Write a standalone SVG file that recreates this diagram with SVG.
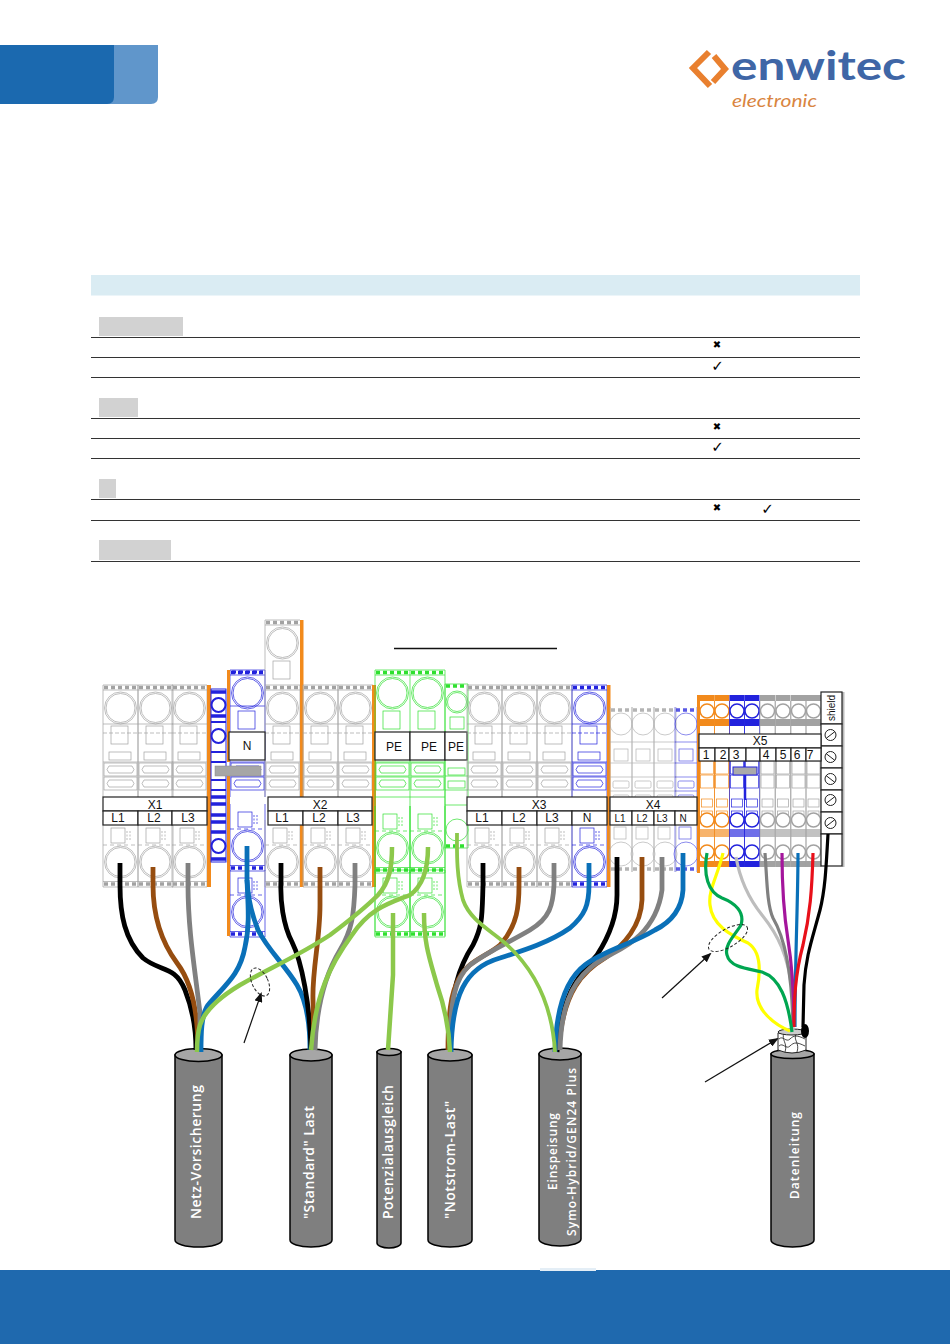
<svg xmlns="http://www.w3.org/2000/svg" width="950" height="1344" viewBox="0 0 950 1344">
<style>
.g{color:#a2a2a2}.b{color:#2222dd}.e{color:#2fe02f}.o{color:#f28a1c}
.ln{fill:none;stroke:currentColor;stroke-width:.7}
.st{fill:none;stroke:currentColor;stroke-width:3.500;stroke-dasharray:4 3}
.lb{fill:#fff;stroke:#222;stroke-width:1.2}
.t{font-family:"Liberation Sans",Arial,sans-serif;font-size:12px;text-anchor:middle;fill:#111}
.t10{font-size:10px}
.bar{fill:#f28a1c}
.rule{stroke:#333;stroke-width:1}
.gb{fill:#d2d2d2}
.mk{font-family:"DejaVu Sans",sans-serif;text-anchor:middle;fill:#000}
.cb{fill:#7f7f7f;stroke:#000;stroke-width:1.5}
.ct{fill:#a6a6a6;stroke:#000;stroke-width:1.5}
.ctx{font-family:"Open Sans","Noto Sans",sans-serif;font-weight:600;fill:#fff}
.w{fill:none;stroke-linecap:butt;stroke-linejoin:round}
.wk{stroke:#000}.wn{stroke:#964d10}.wg{stroke:#808080}.wu{stroke:#0a70b8}.wp{stroke:#8cc84b}
.dash{fill:none;stroke:#222;stroke-width:1;stroke-dasharray:3 2}
.ar{fill:none;stroke:#111;stroke-width:1.2;marker-end:url(#ah)}
.bk{fill:#fff;stroke:currentColor}
.sc{fill:#fff;stroke:#222;stroke-width:1}
</style>
<defs>
<marker id="ah" markerWidth="10" markerHeight="8" refX="8" refY="4" orient="auto" markerUnits="userSpaceOnUse"><path d="M0 0L10 4L0 8Z" fill="#111"/></marker>
<g id="cap">
<path class="st" d="M1 2.500H34"/>
<path class="ln" d="M0 0H35M0 5H35"/>
<circle class="ln" cx="17.500" cy="23" r="16"/><circle class="ln" cx="17.500" cy="23" r="14.500"/>
<rect class="ln" x="8" y="41" width="17" height="18"/>
</g>
<g id="fuse">
<path class="ln" d="M0 77H35"/>
<rect class="ln" x="1" y="78" width="33" height="13"/>
<path class="ln" d="M6 81H29L31 84.500L29 88H6L4 84.500Z"/>
<rect class="ln" x="1" y="92" width="33" height="13"/>
<path class="ln" d="M6 95H29L31 98.500L29 102H6L4 98.500Z"/>
</g>
<g id="top">
<use href="#cap"/>
<use href="#fuse"/>
<path class="ln" d="M0 0V112M35 0V112M0 39H35"/>
<path class="ln" d="M0 48H35" stroke-dasharray="4 2" stroke-width="1"/>
<rect class="ln" x="6" y="67" width="22" height="8"/>
</g>
<g id="bot">
<rect class="ln" x="8" y="143" width="14" height="15"/>
<path class="ln" d="M24 146V156M27 146V156" stroke-dasharray="2 1.500" stroke-width="1.500"/>
<path class="ln" d="M0 160H35" stroke-dasharray="4 3"/>
<path class="ln" d="M0 135V202M35 135V202"/>
<circle class="ln" cx="17.500" cy="177" r="16"/><circle class="ln" cx="17.500" cy="177" r="14.500"/>
<path class="st" d="M1 199H34"/>
<path class="ln" d="M0 196.500H35M0 202H35"/>
</g>
<g id="mod"><use href="#top"/><use href="#bot"/></g>
<g id="nar">
<path class="st" d="M1 3H21" stroke-width="3"/>
<path class="ln" d="M0 0V165M22 0V165M0 35H22M0 56H22M0 70H22M0 84H22"/>
<circle class="ln" cx="11" cy="17" r="11"/>
<rect class="ln" x="4" y="42" width="14" height="12"/>
<rect class="ln" x="3" y="74" width="16" height="7" rx="1.500"/>
<rect class="ln" x="3" y="88" width="16" height="7" rx="1.500"/>
<rect class="ln" x="4" y="120" width="12" height="12"/>
<circle class="ln" cx="11" cy="147" r="12"/>
<path class="st" d="M1 162H21" stroke-width="3"/>
</g>
<g id="k">
<rect x="0" y="0" width="15" height="6" fill="currentColor"/>
<rect x="0" y="24" width="15" height="7" fill="currentColor"/>
<circle class="bk" stroke-width="1.500" cx="7.500" cy="16" r="7"/>
<path class="ln" d="M0 6V172M15 6V172"/>
<rect class="ln" x="1" y="66" width="13" height="13"/>
<rect class="ln" x="1" y="80" width="13" height="13"/>
<rect class="ln" x="2" y="104" width="11" height="8"/>
<rect class="ln" x="2" y="116" width="11" height="7"/>
<circle class="bk" stroke-width="1.500" cx="7.500" cy="125" r="7"/>
<rect x="0" y="134" width="15" height="8" fill="currentColor" opacity=".65"/>
<circle class="bk" stroke-width="1.500" cx="7.500" cy="157" r="7"/>
<rect x="0" y="166" width="15" height="6" fill="currentColor"/>
</g>
</defs>
<rect width="950" height="1344" fill="#fff"/>

<g id="header">
<path d="M100 45H158V97Q158 104 151 104H100Z" fill="#6096cb"/>
<path d="M0 45H114V97Q114 104 107 104H0Z" fill="#1b69af"/>
</g>
<g id="logo">
<path d="M709 52L693 68L710 86" fill="none" stroke="#e9802f" stroke-width="6"/>
<path d="M714 56L725 69L713 82" fill="none" stroke="#e9802f" stroke-width="6"/>
<text x="731" y="80" font-family="Lato,sans-serif" font-weight="700" font-size="40" fill="#3f66a6" textLength="175" lengthAdjust="spacingAndGlyphs">enwitec</text>
<text x="732" y="107" font-family="Lato,sans-serif" font-style="italic" font-size="18" fill="#d9853f" textLength="85" lengthAdjust="spacingAndGlyphs">electronic</text>
</g>
<g id="table">
<rect x="91" y="275" width="769" height="20.500" fill="#daecf3"/>
<rect class="gb" x="99" y="317" width="84" height="19"/>
<rect class="gb" x="99" y="398" width="39" height="19"/>
<rect class="gb" x="99" y="479" width="17" height="19"/>
<rect class="gb" x="99" y="540" width="72" height="20"/>
<path class="rule" d="M91 337.500H860M91 357.500H860M91 377.500H860M91 418.500H860M91 438.500H860M91 458.500H860M91 499.500H860M91 520.500H860M91 561.500H860"/>
<text class="mk" x="717" y="348" font-size="10">✖</text>
<text class="mk" x="717.500" y="371" font-size="15">✓</text>
<text class="mk" x="717" y="430" font-size="10">✖</text>
<text class="mk" x="717.500" y="452" font-size="15">✓</text>
<text class="mk" x="717" y="511" font-size="10">✖</text>
<text class="mk" x="767.500" y="514" font-size="15">✓</text>
</g>
<path id="title-rule" d="M394 648.500H557" stroke="#111" stroke-width="1.600"/>

<g id="X1-block" class="g">
<use href="#mod" x="103" y="685"/><use href="#mod" x="138" y="685"/><use href="#mod" x="172" y="685"/>
<rect class="bar" x="207" y="685" width="4" height="202"/>
</g>
<g id="bridge-column" class="b">
<rect x="211" y="689" width="15" height="173" fill="#fff" stroke="currentColor" stroke-width="1"/>
<path d="M211 692H226M211 716H226M211 797H226M211 804H226M211 815H226M211 822H226M211 832H226M211 859H226" stroke="currentColor" stroke-width="3.500"/>
<path d="M211 722H226M211 752H226M211 762H226M211 780H226M211 790H226" stroke="currentColor" stroke-width="2"/>
<circle cx="218.500" cy="705" r="7" fill="#fff" stroke="currentColor" stroke-width="2"/>
<circle cx="218.500" cy="736" r="7" fill="#fff" stroke="currentColor" stroke-width="2"/>
<circle cx="218.500" cy="846" r="7" fill="#fff" stroke="currentColor" stroke-width="2"/>
</g>
<g id="N-block" class="b">
<use href="#cap" x="230" y="670"/><use href="#fuse" x="230" y="685"/><use href="#bot" x="230" y="669"/><use href="#bot" x="230" y="735"/>
<path class="ln" d="M230 670V797M265 670V797M230 706H265"/>
<path d="M232 672H263" stroke="currentColor" stroke-width="3" stroke-dasharray="4 3"/>
<rect class="bar" x="227" y="670" width="3" height="92"/>
<rect class="bar" x="227" y="776" width="3" height="160"/>
</g>
<g id="tall-block" class="g">
<use href="#cap" x="265" y="620"/>
<path class="ln" d="M265 620V685"/>
<use href="#mod" x="265" y="685"/>
<rect class="bar" x="300" y="620" width="3.500" height="267"/>
</g>
<rect id="bridge" x="215" y="766" width="46" height="10" fill="#a6a6a6" stroke="#888" stroke-width=".5"/>
<g id="N-label">
<rect class="lb" x="229" y="732" width="36" height="28"/>
<text class="t" x="247" y="750">N</text>
</g>
<g id="X2-block" class="g">
<use href="#mod" x="303" y="685"/><use href="#mod" x="338" y="685"/>
<rect class="bar" x="372" y="685" width="4" height="202"/>
</g>
<g id="PE-block" class="e">
<use href="#cap" x="375" y="670"/><use href="#cap" x="410" y="670"/>
<use href="#fuse" x="375" y="685"/><use href="#fuse" x="410" y="685"/>
<use href="#bot" x="375" y="671"/><use href="#bot" x="410" y="671"/>
<use href="#bot" x="375" y="735"/><use href="#bot" x="410" y="735"/>
<path class="ln" d="M375 670V936M410 670V936M445 670V936M375 797H445M375 870H445"/>
<path class="ln" d="M445 684V848H468V684ZM445 776H468M445 790H468M445 805H468"/>
<path class="st" d="M446 686H467" stroke-width="3"/>
<circle class="ln" cx="457" cy="702" r="11"/><circle class="ln" cx="457" cy="702" r="9.500"/>
<rect class="ln" x="450" y="717" width="14" height="12"/>
<rect class="ln" x="448" y="768" width="17" height="7"/>
<rect class="ln" x="448" y="781" width="17" height="7"/>
<circle class="ln" cx="457" cy="830" r="11"/>
<path class="st" d="M446 846H467" stroke-width="3"/>
</g>
<g id="PE-labels">
<rect class="lb" x="375" y="732" width="35" height="28"/><rect class="lb" x="410" y="732" width="35" height="28"/><rect class="lb" x="445" y="732" width="22" height="28"/>
<text class="t" x="394" y="751">PE</text><text class="t" x="429" y="751">PE</text><text class="t" x="456" y="751">PE</text>
</g>
<g id="X3-block">
<g class="g"><use href="#mod" x="467" y="685"/><use href="#mod" x="502" y="685"/><use href="#mod" x="537" y="685"/></g>
<g class="b"><use href="#mod" x="572" y="685"/></g>
<rect class="bar" x="607" y="685" width="3.500" height="202"/>
</g>
<g id="X4-block">
<g class="g" opacity=".8"><use href="#nar" x="610" y="707"/><use href="#nar" x="632" y="707"/><use href="#nar" x="654" y="707"/></g>
<g class="b" opacity=".75"><use href="#nar" x="675" y="707"/></g>
<rect class="bar" x="697" y="695" width="3" height="178"/>
</g>
<g id="X5-block">
<g class="o"><use href="#k" x="699.500" y="695"/><use href="#k" x="714.500" y="695"/></g>
<g class="b"><use href="#k" x="729.500" y="695"/><use href="#k" x="744.500" y="695"/></g>
<g class="g"><use href="#k" x="760" y="695"/><use href="#k" x="775.500" y="695"/><use href="#k" x="791" y="695"/><use href="#k" x="806" y="695"/></g>
<rect x="733" y="767" width="24" height="8" fill="#aaa" stroke="#2222dd"/>
<path d="M745 775V800" stroke="#2222dd" stroke-width="2.500"/>
</g>
<g id="shield-block">
<rect x="842" y="692" width="2.500" height="175" fill="#bbb"/>
<rect class="lb" x="821" y="692" width="21" height="32"/>
<rect class="lb" x="821" y="724" width="21" height="22"/><rect class="lb" x="821" y="746" width="21" height="22"/><rect class="lb" x="821" y="768" width="21" height="22"/><rect class="lb" x="821" y="790" width="21" height="22"/><rect class="lb" x="821" y="812" width="21" height="22"/><rect class="lb" x="821" y="834" width="21" height="32"/>
<text x="835" y="708" font-family="'Liberation Sans',sans-serif" font-size="10" text-anchor="middle" fill="#111" transform="rotate(-90 835 708)">shield</text>
<g id="screws">
<circle class="sc" cx="830.500" cy="735" r="5.500"/><path class="sc" d="M826 738.500L835 731.500"/>
<circle class="sc" cx="830.500" cy="757" r="5.500"/><path class="sc" d="M826 753.500L835 760.500"/>
<circle class="sc" cx="830.500" cy="779" r="5.500"/><path class="sc" d="M826 775.500L835 782.500"/>
<circle class="sc" cx="830.500" cy="800" r="5.500"/><path class="sc" d="M826 803.500L835 796.500"/>
<circle class="sc" cx="830.500" cy="823" r="5.500"/><path class="sc" d="M826 826.500L835 819.500"/>
</g>
</g>
<g id="X1-label">
<rect class="lb" x="103" y="797" width="104" height="14"/>
<rect class="lb" x="103" y="811" width="35" height="14"/><rect class="lb" x="138" y="811" width="34" height="14"/><rect class="lb" x="172" y="811" width="35" height="14"/>
<text class="t" x="155" y="809">X1</text><text class="t" x="118" y="822">L1</text><text class="t" x="154" y="822">L2</text><text class="t" x="188" y="822">L3</text>
</g>
<g id="X2-label">
<rect class="lb" x="268" y="797" width="104" height="14"/>
<rect class="lb" x="268" y="811" width="35" height="14"/><rect class="lb" x="303" y="811" width="35" height="14"/><rect class="lb" x="338" y="811" width="34" height="14"/>
<text class="t" x="320" y="809">X2</text><text class="t" x="282" y="822">L1</text><text class="t" x="319" y="822">L2</text><text class="t" x="353" y="822">L3</text>
</g>
<g id="X3-label">
<rect class="lb" x="467" y="797" width="140" height="14"/>
<rect class="lb" x="467" y="811" width="35" height="14"/><rect class="lb" x="502" y="811" width="35" height="14"/><rect class="lb" x="537" y="811" width="35" height="14"/><rect class="lb" x="572" y="811" width="35" height="14"/>
<text class="t" x="539" y="809">X3</text><text class="t" x="482" y="822">L1</text><text class="t" x="519" y="822">L2</text><text class="t" x="552" y="822">L3</text><text class="t" x="587" y="822">N</text>
</g>
<g id="X4-label">
<rect class="lb" x="610" y="797" width="87" height="14"/>
<rect class="lb" x="610" y="811" width="22" height="14"/><rect class="lb" x="632" y="811" width="22" height="14"/><rect class="lb" x="654" y="811" width="21" height="14"/><rect class="lb" x="675" y="811" width="22" height="14"/>
<text class="t" x="653" y="809">X4</text><text class="t t10" x="620" y="822">L1</text><text class="t t10" x="642" y="822">L2</text><text class="t t10" x="662" y="822">L3</text><text class="t t10" x="683" y="822">N</text>
</g>
<g id="X5-label">
<rect class="lb" x="699" y="734" width="122" height="14"/>
<rect class="lb" x="699" y="748" width="16" height="13"/><rect class="lb" x="715" y="748" width="14" height="13"/><rect class="lb" x="729" y="748" width="17" height="13"/><rect class="lb" x="746" y="748" width="14" height="13"/><rect class="lb" x="760" y="748" width="16" height="13"/><rect class="lb" x="776" y="748" width="15" height="13"/><rect class="lb" x="791" y="748" width="15" height="13"/><rect class="lb" x="806" y="748" width="15" height="13"/>
<text class="t" x="760" y="745">X5</text><text class="t" x="706" y="759">1</text><text class="t" x="723" y="759">2</text><text class="t" x="736" y="759">3</text><text class="t" x="766" y="759">4</text><text class="t" x="783" y="759">5</text><text class="t" x="797" y="759">6</text><text class="t" x="810" y="759">7</text>
</g>

<g id="cable-netz">
<path class="cb" d="M175 1055V1240A23.500 7 0 0 0 222 1240V1055Z"/><ellipse class="ct" cx="198.500" cy="1055" rx="23.500" ry="6.500"/>
<text class="ctx" font-size="14" textLength="134" transform="translate(201 1219) rotate(-90)">Netz-Vorsicherung</text>
</g>
<g id="cable-standard">
<path class="cb" d="M290 1055V1240A21 7 0 0 0 332 1240V1055Z"/><ellipse class="ct" cx="311" cy="1055" rx="21" ry="6"/>
<text class="ctx" font-size="14" textLength="113" transform="translate(314 1219) rotate(-90)">"Standard" Last</text>
</g>
<g id="cable-potenzial">
<path class="cb" d="M377 1052V1243A12 5 0 0 0 401 1243V1052Z"/><ellipse class="ct" cx="389" cy="1052" rx="12" ry="3.500"/>
<text class="ctx" font-size="14" textLength="134" transform="translate(393 1219) rotate(-90)">Potenzialausgleich</text>
</g>
<g id="cable-notstrom">
<path class="cb" d="M428 1055V1240A22 7 0 0 0 472 1240V1055Z"/><ellipse class="ct" cx="450" cy="1055" rx="22" ry="6"/>
<text class="ctx" font-size="14" textLength="118" transform="translate(455 1219) rotate(-90)">"Notstrom-Last"</text>
</g>
<g id="cable-einspeisung">
<path class="cb" d="M539 1054V1239A21 7 0 0 0 581 1239V1054Z"/><ellipse class="ct" cx="560" cy="1054" rx="21" ry="6"/>
<text class="ctx" font-size="12" textLength="77" transform="translate(557 1190) rotate(-90)">Einspeisung</text>
<text class="ctx" font-size="12" textLength="168" transform="translate(576 1236) rotate(-90)">Symo-Hybrid/GEN24 Plus</text>
</g>
<g id="cable-daten">
<path class="cb" d="M771 1054V1240A21.500 7 0 0 0 814 1240V1054Z"/><ellipse class="ct" cx="792.500" cy="1054" rx="21.500" ry="4.500"/>
<text class="ctx" font-size="12" textLength="87" transform="translate(799 1199) rotate(-90)">Datenleitung</text>
<path d="M778 1033V1050Q792 1056 806 1050V1033Z" fill="#fff" stroke="#222"/>
<path d="M779 1039C783 1035 786 1043 790 1039S797 1035 805 1039M779 1046C783 1042 786 1050 790 1046S797 1042 805 1046M784 1033C781 1040 788 1043 785 1052M796 1034C793 1040 800 1043 797 1052" fill="none" stroke="#333" stroke-width=".9"/>
<ellipse cx="792" cy="1032" rx="14" ry="3" fill="#ccc" stroke="#222"/>
<ellipse cx="805" cy="1031" rx="4" ry="7" fill="#000"/>
</g>

<g id="connectors">
<g class="w" stroke-width="4.800">
<path class="wk" d="M120 863V885C120 915 125 940 143 958C160 972 175 965 185 990C193 1010 196 1030 196 1050"/>
<path class="wn" d="M153 867V885C153 915 160 940 177 963C190 980 198 1010 198 1050"/>
<path class="wg" d="M188 863V885C188 930 195 970 200 1013L200 1050"/>
<path class="wu" d="M247 846V880C248 905 250 925 245 947C240 975 225 985 208 1005C201 1015 201 1035 201 1052"/>
<path class="wu" d="M247 880C248 900 252 915 258 930C268 950 285 965 297 985C306 1000 310 1025 310 1050"/>
<path class="wk" d="M281 863V880C280 900 283 925 292 942C302 962 310 1005 311 1050"/>
<path class="wn" d="M320 867V905C320 940 312 970 313 1000L314 1050"/>
<path class="wg" d="M355 863V885C354 915 352 930 340 950C325 975 316 1010 315 1050"/>
<path class="wk" d="M483 863V885C482 915 483 925 473 945C460 965 450 990 449 1050"/>
<path class="wn" d="M519 867V885C519 905 518 925 500 945C485 958 465 960 456 985C449 1000 448 1030 448 1050"/>
<path class="wg" d="M554 863V885C553 905 550 918 530 930C510 942 490 950 470 965C455 978 450 1000 450 1050"/>
<path class="wu" d="M589 863V885C589 905 585 915 570 928C550 942 525 950 500 958C465 968 452 995 451 1052"/>
<path class="wk" d="M617 857V895C617 915 610 935 597 955C580 975 562 990 557 1052"/>
<path class="wn" d="M642 857V900C641 925 625 945 605 958C585 970 562 990 559 1050"/>
<path class="wg" d="M662 857V890C660 905 655 920 640 935C625 950 605 955 590 968C570 985 561 1010 560 1050"/>
<path class="wu" d="M683 853V890C682 905 675 920 655 930C630 945 605 950 585 965C565 980 556 1010 555 1052"/>
</g>
<g class="w wp" stroke-width="4.500">
<path d="M392 847C392 865 390 882 378 895C365 908 350 920 330 935C300 955 270 968 240 985C220 997 205 1010 200 1025C197 1035 197 1045 197 1052"/>
<path d="M428 847C428 865 424 885 410 895C390 903 370 908 352 935C330 965 315 995 311 1050"/>
<path d="M393 913V975L388 1050"/>
<path d="M424 913C424 945 430 960 437 985C444 1005 449 1025 450 1052"/>
<path stroke-width="3.800" d="M457 833C457 850 456 875 463 900C470 920 490 930 505 943C530 965 552 1000 555 1052"/>
</g>
<g class="w" stroke-width="3.200">
<path stroke="#bdbdbd" d="M736 857C740 880 750 900 762 915C778 935 788 955 792 990L793 1030"/>
<path stroke="#808080" d="M765 853C767 880 767 905 773 918C783 935 792 965 793 1027"/>
<path stroke="#a4159c" d="M782 853C782 890 784 915 788 940C792 965 794 1000 794 1027"/>
<path stroke="#0a70b8" d="M798 853C798 900 795 960 795 1027"/>
<path stroke="#e8101a" d="M813 853C812 890 810 915 803 945C795 975 794 1000 794 1027"/>
<path stroke="#000" d="M828 834C826 870 825 890 820 910C812 940 806 955 804 985L803 1027"/>
<path stroke="#ffff00" d="M723 853C718 875 708 890 710 905C712 925 730 935 748 943C762 952 760 975 757 990C755 1010 775 1025 790 1031"/>
<path stroke="#00a651" d="M707 853C703 875 708 892 722 898C735 903 745 912 741 925C735 935 724 945 727 955C730 968 750 969 762 972C780 978 788 1000 792 1032"/>
</g>
</g>

<g id="annotations">
<ellipse class="dash" cx="260" cy="982" rx="8" ry="15" transform="rotate(-25 260 982)"/>
<path class="ar" d="M244 1043L261 994"/>
<ellipse class="dash" cx="728" cy="938" rx="22" ry="9" transform="rotate(-30 728 938)"/>
<path class="ar" d="M662 998L710 954"/>
<path class="ar" d="M705 1082L777 1039"/>
</g>
<g id="footer">
<rect x="0" y="1270" width="950" height="74" fill="#1f69ae"/>
<rect x="540" y="1268" width="56" height="3" fill="#e4eef6"/>
</g>
</svg>
